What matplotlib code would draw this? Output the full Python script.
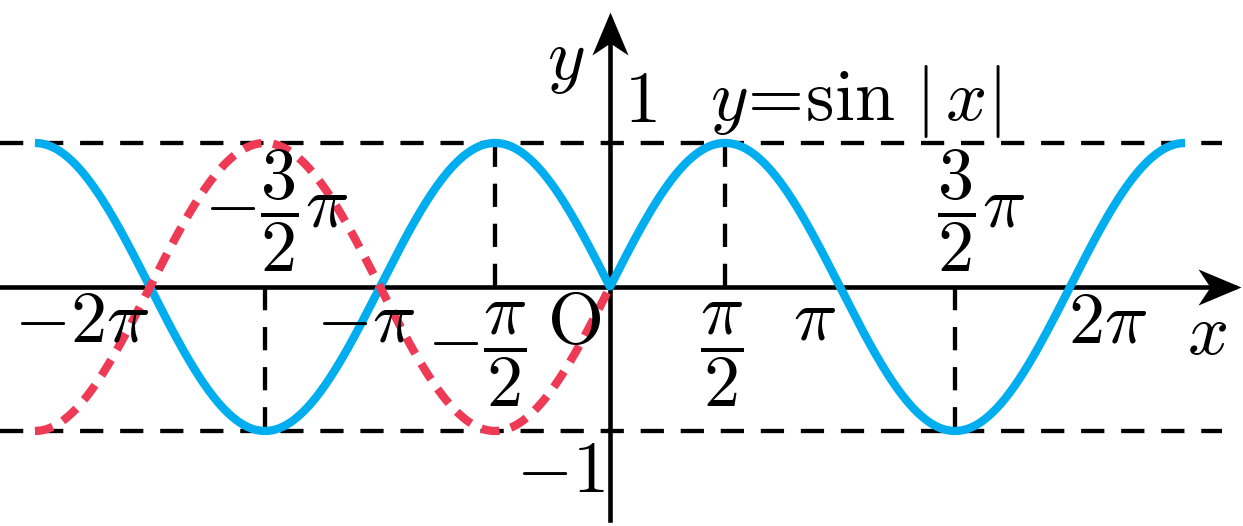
import matplotlib
matplotlib.use("Agg")
import matplotlib.pyplot as plt
import numpy as np
from matplotlib.path import Path

plt.rcParams['mathtext.fontset'] = 'cm'

pi = np.pi

# view window (data units, x in multiples of pi)
x_lo, x_hi = -2.652, 2.752
y_lo, y_hi = -1.660, 1.993

# curve range
curve_start, curve_end = -2.5, 2.5

# guide lines: x positions (in pi) and the y they reach
guide_x = [-1.5, -0.5, 0.5, 1.5]
guide_y = [-1, 1, 1, -1]
hline_y = [1, -1]
hline_end = 2.661

# axis extents
xaxis_tip = 2.743
yaxis_bottom, yaxis_tip = -1.618, 1.91

# labels: text, x (in pi), y
labels = [
    (r"$-2\pi$", -2.296, -0.243),
    (r"$-\pi$", -1.061, -0.243),
    (r"$-\dfrac{\pi}{2}$", -0.58, -0.47),
    (r"$\mathrm{O}$", -0.157, -0.257),
    (r"$\dfrac{\pi}{2}$", 0.487, -0.47),
    (r"$\pi$", 0.891, -0.23),
    (r"$2\pi$", 2.165, -0.25),
    (r"$x$", 2.596, -0.333),
    (r"$-\dfrac{3}{2}\pi$", -1.452, 0.53),
    (r"$\dfrac{3}{2}\pi$", 1.613, 0.53),
    (r"$1$", 0.13, 1.278),
    (r"$-1$", -0.217, -1.285),
    (r"$y$", -0.191, 1.5625),
    (r"$y\!=\!\sin\,|\,x|$", 1.065, 1.285),
]

blue = '#00AEEF'
red = '#EE3A55'

fig = plt.figure(figsize=(12.43, 5.26), dpi=100)
ax = fig.add_axes([0, 0, 1, 1])
ax.axis('off')
ax.set_xlim(x_lo * pi, x_hi * pi)
ax.set_ylim(y_lo, y_hi)

# dashed guides
for yv in hline_y:
    ax.plot([x_lo * pi, hline_end * pi], [yv, yv], color='k', lw=3.1,
            dashes=(5.4, 3.9), dash_capstyle='butt', zorder=1)
for xv, yv in zip(guide_x, guide_y):
    ax.plot([xv * pi, xv * pi], [0, yv], color='k', lw=3.1,
            dashes=(5.4, 3.9), dash_capstyle='butt', zorder=1)

# axes
ax.plot([x_lo * pi, xaxis_tip * pi - 0.1], [0, 0], color='k', lw=3.3, zorder=2)
ax.plot([0, 0], [yaxis_bottom, yaxis_tip - 0.1], color='k', lw=3.3, zorder=2)

# stealth arrowheads
verts = [(0, 0), (-1, 0.42), (-0.72, 0), (-1, -0.42), (0, 0)]
codes = [Path.MOVETO, Path.LINETO, Path.LINETO, Path.LINETO, Path.CLOSEPOLY]
head_r = Path(verts, codes)
head_u = Path([(-y, x) for x, y in verts], codes)
ax.plot([xaxis_tip * pi], [0], marker=head_r, ms=62, color='k', mew=0, zorder=5)
ax.plot([0], [yaxis_tip], marker=head_u, ms=62, color='k', mew=0, zorder=5)

# curves
xs = np.linspace(curve_start * pi, curve_end * pi, 1500)
ax.plot(xs, np.sin(np.abs(xs)), color=blue, lw=6, solid_capstyle='butt', zorder=3)
xn = xs[xs <= 0]
ax.plot(xn, np.sin(xn), color=red, lw=6, dashes=(2.2, 1.4),
        dash_capstyle='butt', zorder=4)

for txt, xv, yv in labels:
    ax.text(xv * pi, yv, txt, fontsize=52, ha='center', va='center', zorder=6)

fig.savefig('out.png', dpi=100)
